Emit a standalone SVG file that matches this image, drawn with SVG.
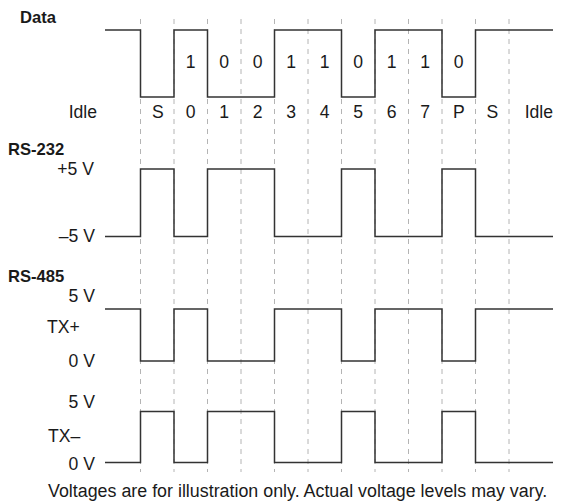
<svg xmlns="http://www.w3.org/2000/svg" width="569" height="504" viewBox="0 0 569 504">
<style>
text{font-family:"Liberation Sans",Arial,sans-serif;font-size:17.6px;fill:#1a1a1a}
.b{font-weight:bold;font-size:16.6px}
.m{text-anchor:middle}
.e{text-anchor:end}
.grid line{stroke:#b4b4b4;stroke-width:1;stroke-dasharray:5 5}
.w{fill:none;stroke:#333;stroke-width:1.5}
#note{font-size:17.85px}
</style>
<rect width="569" height="504" fill="#fff"/>
<g id="grid" class="grid">
<line x1="140.5" y1="19" x2="140.5" y2="472"/>
<line x1="174" y1="19" x2="174" y2="472"/>
<line x1="207.5" y1="19" x2="207.5" y2="472"/>
<line x1="241" y1="19" x2="241" y2="472"/>
<line x1="274.5" y1="19" x2="274.5" y2="472"/>
<line x1="308" y1="19" x2="308" y2="472"/>
<line x1="341.5" y1="19" x2="341.5" y2="472"/>
<line x1="375" y1="19" x2="375" y2="472"/>
<line x1="408.5" y1="19" x2="408.5" y2="472"/>
<line x1="442" y1="19" x2="442" y2="472"/>
<line x1="475.5" y1="19" x2="475.5" y2="472"/>
<line x1="509" y1="19" x2="509" y2="472"/>
</g>
<g id="data">
<text class="b" x="20" y="23">Data</text>
<path class="w" d="M105,30 H140.5 V97 H174 V30 H207.5 V97 H274.5 V30 H341.5 V97 H375 V30 H442 V97 H475.5 V30 H553"/>
<g class="m">
<text x="190.75" y="68">1</text>
<text x="224.25" y="68">0</text>
<text x="257.75" y="68">0</text>
<text x="291.25" y="68">1</text>
<text x="324.75" y="68">1</text>
<text x="358.25" y="68">0</text>
<text x="391.75" y="68">1</text>
<text x="425.25" y="68">1</text>
<text x="458.75" y="68">0</text>
<text x="157.75" y="118">S</text>
<text x="190.75" y="118">0</text>
<text x="224.25" y="118">1</text>
<text x="257.75" y="118">2</text>
<text x="291.25" y="118">3</text>
<text x="324.75" y="118">4</text>
<text x="358.25" y="118">5</text>
<text x="391.75" y="118">6</text>
<text x="425.25" y="118">7</text>
<text x="458.75" y="118">P</text>
<text x="492.25" y="118">S</text>
</g>
<text class="e" x="97" y="118">Idle</text>
<text class="e" x="553" y="118">Idle</text>
</g>
<g id="rs232">
<text class="b" x="8" y="155">RS-232</text>
<text class="e" x="94" y="175">+5 V</text>
<text class="e" x="95" y="242">–5 V</text>
<path class="w" d="M105,236.5 H140.5 V169 H174 V236.5 H207.5 V169 H274.5 V236.5 H341.5 V169 H375 V236.5 H442 V169 H475.5 V236.5 H553"/>
</g>
<g id="rs485-txp">
<text class="b" x="8" y="282">RS-485</text>
<text class="e" x="95" y="302">5 V</text>
<text x="47" y="333">TX+</text>
<text class="e" x="95" y="367">0 V</text>
<path class="w" d="M105,309 H140.5 V361 H174 V309 H207.5 V361 H274.5 V309 H341.5 V361 H375 V309 H442 V361 H475.5 V309 H553"/>
</g>
<g id="rs485-txm">
<text class="e" x="95" y="408">5 V</text>
<text x="48" y="442">TX–</text>
<text class="e" x="95" y="470">0 V</text>
<path class="w" d="M105,462.5 H140.5 V411.5 H174 V462.5 H207.5 V411.5 H274.5 V462.5 H341.5 V411.5 H375 V462.5 H442 V411.5 H475.5 V462.5 H553"/>
</g>
<text id="note" x="48" y="497">Voltages are for illustration only. Actual voltage levels may vary.</text>
</svg>
